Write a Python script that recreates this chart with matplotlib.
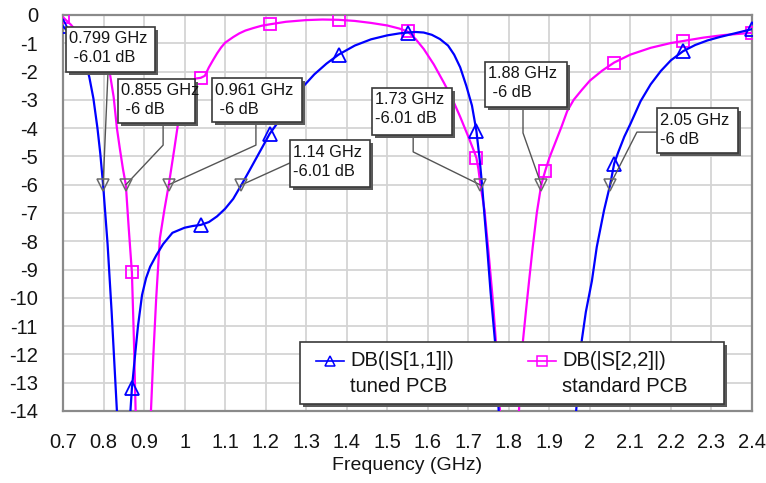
import numpy as np
import matplotlib
matplotlib.use("Agg")
import matplotlib.pyplot as plt
from matplotlib.patches import Rectangle
from matplotlib.lines import Line2D
from matplotlib.transforms import offset_copy

plt.rcParams["font.family"] = ["Liberation Sans", "DejaVu Sans"]
plt.rcParams["axes.unicode_minus"] = False

# ---------------------------------------------------------------- data
# DB(|S[1,1]|), tuned PCB
freq_s11 = [0.70, 0.72, 0.74, 0.755, 0.765, 0.775, 0.785, 0.792, 0.799, 0.81,
            0.82, 0.833, 0.845, 0.853, 0.86, 0.865, 0.87, 0.878, 0.885, 0.895,
            0.905, 0.915, 0.93, 0.947, 0.97, 1.00, 1.02, 1.04, 1.06, 1.08,
            1.10, 1.12, 1.14, 1.16, 1.185, 1.21, 1.23, 1.255, 1.285, 1.32,
            1.35, 1.38, 1.42, 1.46, 1.50, 1.53, 1.55, 1.57, 1.59, 1.61,
            1.63, 1.65, 1.665, 1.68, 1.695, 1.709, 1.72, 1.728, 1.734, 1.74,
            1.747, 1.755, 1.766, 1.775, 1.785, 1.80, 1.84, 1.89, 1.93, 1.965,
            1.98, 1.99, 2.005, 2.017, 2.035, 2.05, 2.06, 2.07, 2.085, 2.10,
            2.125, 2.15, 2.175, 2.20, 2.23, 2.26, 2.29, 2.32, 2.36, 2.40]
db_s11 = [-0.40, -0.70, -1.15, -1.65, -2.20, -2.95, -4.00, -4.90, -6.01, -8.10,
          -10.50, -14.00, -20.0, -26.0, -18.0, -14.3, -13.2, -12.0, -11.0, -9.9,
          -9.3, -8.9, -8.5, -8.1, -7.7, -7.52, -7.46, -7.42, -7.32, -7.12,
          -6.85, -6.5, -6.01, -5.5, -4.85, -4.2, -3.8, -3.25, -2.65, -2.1,
          -1.72, -1.40, -1.08, -0.86, -0.72, -0.65, -0.62, -0.60, -0.62, -0.70,
          -0.85, -1.08, -1.40, -1.85, -2.50, -3.20, -4.10, -5.10, -6.01, -7.1,
          -8.3, -9.8, -11.55, -14.0, -18.0, -28.0, -30.0, -22.0, -17.0, -14.2,
          -11.5, -10.5, -9.4, -8.2, -6.9, -6.0, -5.25, -4.85, -4.3, -3.85,
          -3.05, -2.45, -1.98, -1.60, -1.28, -1.06, -0.90, -0.78, -0.64, -0.50]

# DB(|S[2,2]|), standard PCB
freq_s22 = [0.70, 0.72, 0.74, 0.76, 0.78, 0.80, 0.816, 0.825, 0.833, 0.84,
            0.848, 0.855, 0.862, 0.87, 0.875, 0.88, 0.89, 0.897, 0.905, 0.912,
            0.917, 0.923, 0.93, 0.939, 0.95, 0.961, 0.975, 0.984, 0.995, 1.006,
            1.016, 1.026, 1.04, 1.05, 1.06, 1.07, 1.08, 1.09, 1.10, 1.12,
            1.135, 1.15, 1.17, 1.19, 1.21, 1.25, 1.30, 1.34, 1.38, 1.42,
            1.46, 1.50, 1.53, 1.55, 1.57, 1.59, 1.615, 1.64, 1.66, 1.68,
            1.70, 1.715, 1.72, 1.725, 1.73, 1.74, 1.75, 1.76, 1.77, 1.78,
            1.79, 1.80, 1.81, 1.825, 1.835, 1.842, 1.85, 1.859, 1.869, 1.88,
            1.89, 1.90, 1.915, 1.93, 1.944, 1.96, 1.98, 2.00, 2.03, 2.06,
            2.10, 2.15, 2.20, 2.23, 2.28, 2.33, 2.40]
db_s22 = [-0.08, -0.35, -0.70, -1.05, -1.40, -1.75, -2.10, -2.90, -4.00, -4.70,
          -5.45, -6.00, -7.50, -9.10, -11.5, -14.5, -22.0, -30.0, -22.0, -16.5,
          -14.0, -12.0, -10.0, -7.9, -6.9, -6.0, -4.7, -3.82, -3.2, -2.76,
          -2.45, -2.25, -2.22, -2.15, -1.85, -1.60, -1.36, -1.15, -0.98, -0.78,
          -0.65, -0.55, -0.46, -0.38, -0.33, -0.24, -0.18, -0.16, -0.17, -0.21,
          -0.28, -0.37, -0.48, -0.58, -0.85, -1.20, -1.75, -2.40, -2.95, -3.60,
          -4.30, -4.85, -5.05, -5.45, -6.01, -6.9, -8.4, -10.0, -11.9, -14.5,
          -20.0, -30.0, -22.0, -14.0, -11.5, -10.5, -9.4, -8.2, -7.0, -6.0,
          -5.5, -5.05, -4.5, -3.95, -3.4, -3.0, -2.65, -2.32, -1.97, -1.68,
          -1.40, -1.16, -0.99, -0.92, -0.80, -0.71, -0.63]

# symbol positions along each trace
symbol_freqs = [0.70, 0.87, 1.04, 1.21, 1.38, 1.55, 1.72, 1.89, 2.06, 2.23, 2.40]

# -6 dB marker readouts: frequency, level, label text
mk_freq = [0.799, 0.855, 0.961, 1.14, 1.73, 1.88, 2.05]
mk_db = [-6.01, -6.0, -6.0, -6.01, -6.01, -6.0, -6.0]
mk_text = [("0.799 GHz", " -6.01 dB"), ("0.855 GHz", " -6 dB"),
           ("0.961 GHz", " -6 dB"), ("1.14 GHz", "-6.01 dB"),
           ("1.73 GHz", "-6.01 dB"), ("1.88 GHz", " -6 dB"),
           ("2.05 GHz", "-6 dB")]
# readout box corners (left, top, right, bottom) in data units
mk_box = [(0.707, -0.42, 0.927, -2.02), (0.836, -2.26, 1.026, -3.82),
          (1.068, -2.23, 1.290, -3.78), (1.260, -4.42, 1.457, -6.08),
          (1.462, -2.58, 1.660, -4.24), (1.741, -1.66, 1.944, -3.25),
          (2.166, -3.29, 2.365, -4.88)]
# leader line bend points from box to marker
mk_leader = [[(0.811, -2.02)],
             [(0.947, -3.82), (0.947, -4.6)],
             [(1.176, -3.78), (1.176, -4.6)],
             [(1.260, -5.23)],
             [(1.564, -4.24), (1.564, -4.84)],
             [(1.835, -3.25), (1.835, -4.17)],
             [(2.166, -4.14), (2.116, -4.14)]]

x_ticks = [0.7, 0.8, 0.9, 1.0, 1.1, 1.2, 1.3, 1.4, 1.5, 1.6, 1.7, 1.8,
           1.9, 2.0, 2.1, 2.2, 2.3, 2.4]
y_ticks = list(range(0, -15, -1))

BLUE = "#0000ff"
MAGENTA = "#ff00ff"
TXT = "#141414"

# ---------------------------------------------------------------- figure
W, H = 766, 483
fig = plt.figure(figsize=(W / 100, H / 100), dpi=100)
ax = fig.add_axes([63 / W, 1 - 411 / H, (752 - 63) / W, (411 - 15) / H])
ax.set_xlim(0.7, 2.4)
ax.set_ylim(-14, 0)

ax.set_xticks(x_ticks)
ax.set_xticklabels([f"{v:g}" for v in x_ticks])
ax.set_yticks(y_ticks)
ax.set_yticklabels([str(v) for v in y_ticks])
ax.tick_params(length=0, labelsize=14.5, labelcolor=TXT)
ax.tick_params(axis="y", pad=18)
ax.tick_params(axis="x", pad=16)
ax.grid(True, color="#d4d4d4", linewidth=1.3, zorder=0)
ax.set_axisbelow(True)
for sp in ax.spines.values():
    sp.set_color("#8a8a8a")
    sp.set_linewidth(1.6)

ax.set_xlabel("Frequency (GHz)", fontsize=14, color=TXT)
ax.xaxis.set_label_coords(0.5, -0.116)


def symbol_index(freqs):
    return [i for i, f in enumerate(freqs)
            if any(np.isclose(f, s) for s in symbol_freqs)]


ax.plot(freq_s22, db_s22, color=MAGENTA, lw=1.6, marker="s", ms=9,
        mfc="none", mec=MAGENTA, mew=1.3, markevery=symbol_index(freq_s22),
        zorder=3)
ax.plot(freq_s11, db_s11, color=BLUE, lw=1.6, marker="^", ms=9.5,
        mfc="none", mec=BLUE, mew=1.3, markevery=symbol_index(freq_s11),
        zorder=3.1)

# -6 dB readouts
for f, d, (l1, l2), box, bends in zip(mk_freq, mk_db, mk_text, mk_box,
                                      mk_leader):
    pts = bends + [(f, d)]
    ax.plot([p[0] for p in pts], [p[1] for p in pts], color="#555555",
            lw=1.0, zorder=4)
    ax.plot([f], [d], marker="v", ms=8, mfc="none", mec="#6a6a6a",
            mew=1.1, zorder=5)
    x0, y0, x1, y1 = box
    shadow = Rectangle((x0, y1), x1 - x0, y0 - y1, facecolor="#5a5a5a",
                       edgecolor="none", zorder=5.5,
                       transform=offset_copy(ax.transData, fig=fig, x=3,
                                             y=-3, units="dots"))
    ax.add_patch(shadow)
    ax.add_patch(Rectangle((x0, y1), x1 - x0, y0 - y1, facecolor="white",
                           edgecolor="#3a3a3a", lw=1.2, zorder=6))
    ax.text(x0, y0, l1, fontsize=11.8, color=TXT, va="center", ha="left",
            zorder=7, transform=offset_copy(ax.transData, fig=fig, x=3,
                                            y=-12, units="dots"))
    ax.text(x0, y0, l2, fontsize=11.8, color=TXT, va="center", ha="left",
            zorder=7, transform=offset_copy(ax.transData, fig=fig, x=3,
                                            y=-31, units="dots"))

# legend panel
def ax_x(px):
    return (px - 63) / (752 - 63)


def ax_y(py):
    return (411 - py) / (411 - 15)


lx0, lx1, ly0, ly1 = ax_x(300), ax_x(724), ax_y(404), ax_y(342)
ax.add_patch(Rectangle((lx0, ly0), lx1 - lx0, ly1 - ly0,
                       transform=offset_copy(ax.transAxes, fig=fig, x=3, y=-3,
                                             units="dots"),
                       facecolor="#5a5a5a", edgecolor="none", zorder=8,
                       clip_on=False))
ax.add_patch(Rectangle((lx0, ly0), lx1 - lx0, ly1 - ly0,
                       transform=ax.transAxes, facecolor="white",
                       edgecolor="#3a3a3a", lw=1.2, zorder=9, clip_on=False))
entries = [(316, 344, BLUE, "^", "DB(|S[1,1]|)", "tuned PCB"),
           (528, 556, MAGENTA, "s", "DB(|S[2,2]|)", "standard PCB")]
for hx0, hx1, col, mk, t1, t2 in entries:
    ax.add_line(Line2D([ax_x(hx0), ax_x(hx1)], [ax_y(361), ax_y(361)],
                       transform=ax.transAxes, color=col, lw=1.2, zorder=10,
                       clip_on=False))
    ax.add_line(Line2D([ax_x((hx0 + hx1) / 2)], [ax_y(361)],
                       transform=ax.transAxes, marker=mk, ms=7, mfc="none",
                       mec=col, mew=1.1, zorder=10, clip_on=False))
    ax.text(ax_x(hx1 + 6), ax_y(361), t1, transform=ax.transAxes,
            fontsize=14.5, color=TXT, va="center", ha="left", zorder=10)
    ax.text(ax_x(hx1 + 6), ax_y(386), t2, transform=ax.transAxes,
            fontsize=14.5, color=TXT, va="center", ha="left", zorder=10)

fig.savefig("out.png", dpi=100, facecolor="white")
